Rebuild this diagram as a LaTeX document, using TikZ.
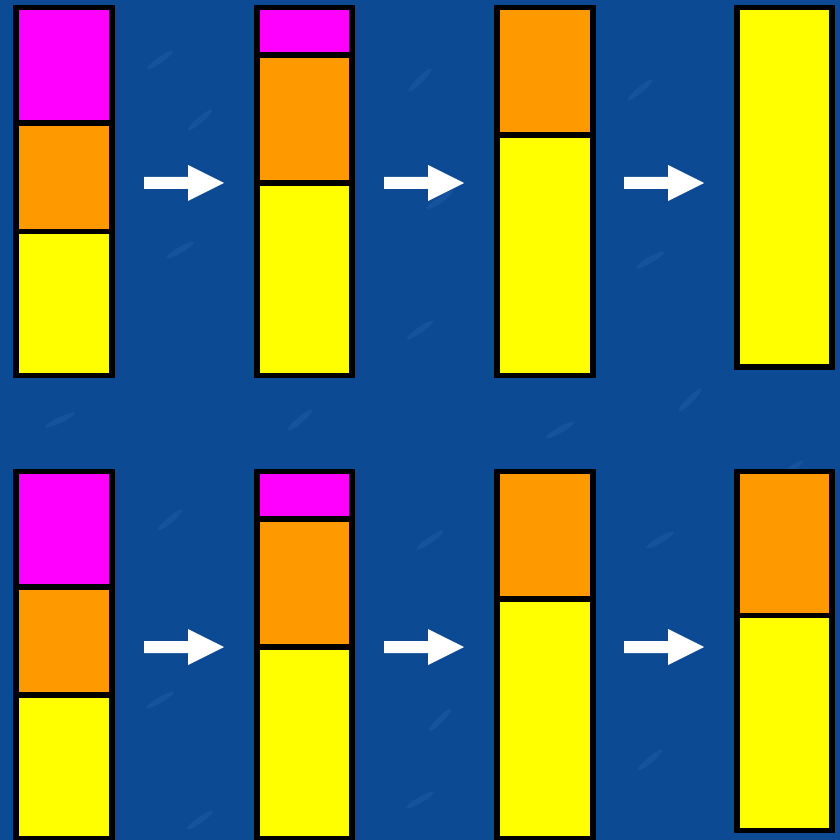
\documentclass[tikz,border=0pt]{standalone}
\usepackage{tikz}
\definecolor{slidebg}{HTML}{0C4A94}
\definecolor{slidebgl}{HTML}{2A68B0}
\definecolor{barmag}{HTML}{FF00FF}
\definecolor{barorg}{HTML}{FF9900}
\definecolor{baryel}{HTML}{FFFF00}
% block arrow, tail at (#1,#2)
\newcommand\steparrow[2]{\fill[white] (#1,#2-6) -- ++(44,0) -- ++(0,-12) -- ++(36,18) -- ++(-36,18) -- ++(0,-12) -- ++(-44,0) -- cycle;}

\begin{document}
\begin{tikzpicture}[x=0.01cm,y=-0.01cm,
  seg/.style={draw=black,line width=0.055cm,line join=miter},
  mag/.style={seg,fill=barmag},
  org/.style={seg,fill=barorg},
  yel/.style={seg,fill=baryel},
  streak/.style={slidebgl,opacity=0.3}]
\useasboundingbox[fill=slidebg] (0,0) rectangle (840,840);
% faint texture
\foreach \sx/\sy/\ang in {160/60/35,200/120/40,180/250/30,420/80/45,440/200/35,640/90/40,650/260/30,
  60/420/25,300/420/40,420/330/35,560/430/30,690/400/45,790/470/35,
  170/520/40,160/700/30,430/540/35,440/720/45,660/540/30,650/760/40,200/820/35,420/800/30}
  \fill[streak,rotate around={\ang:(\sx,\sy)}] (\sx,\sy) ellipse (16 and 3);
% top row
\draw[yel] (16,231.5) rectangle (112,375.5);
\draw[org] (16,123) rectangle (112,231.5);
\draw[mag] (16,7.5) rectangle (112,123);
\draw[yel] (257,183) rectangle (352,375.5);
\draw[org] (257,55) rectangle (352,183);
\draw[mag] (257,7.5) rectangle (352,55);
\draw[yel] (497,135) rectangle (593,375.5);
\draw[org] (497,7.5) rectangle (593,135);
\draw[yel] (737,7.5) rectangle (832,367);
\steparrow{144}{183}
\steparrow{384}{183}
\steparrow{624}{183}
% bottom row
\draw[yel] (16,695) rectangle (112,839);
\draw[org] (16,587) rectangle (112,695);
\draw[mag] (16,471.5) rectangle (112,587);
\draw[yel] (257,647) rectangle (352,839);
\draw[org] (257,519) rectangle (352,647);
\draw[mag] (257,471.5) rectangle (352,519);
\draw[yel] (497,599) rectangle (593,839);
\draw[org] (497,471.5) rectangle (593,599);
\draw[yel] (737,615.5) rectangle (832,830.5);
\draw[org] (737,471.5) rectangle (832,615.5);
\steparrow{144}{647}
\steparrow{384}{647}
\steparrow{624}{647}
\end{tikzpicture}
\end{document}
